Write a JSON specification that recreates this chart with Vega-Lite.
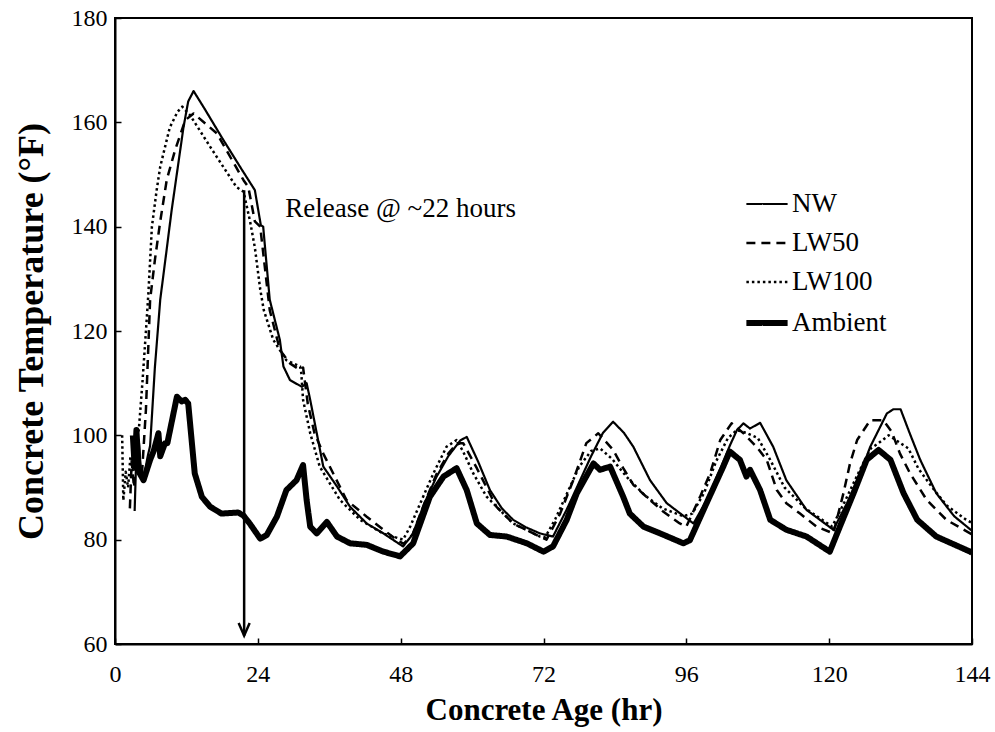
{
  "$schema": "https://vega.github.io/schema/vega-lite/v6.json",
  "width": 857,
  "height": 626,
  "padding": {"left": 115, "top": 18, "right": 23, "bottom": 88},
  "autosize": {"type": "none"},
  "background": "white",
  "config": {
    "view": {"stroke": "black", "strokeWidth": 2},
    "font": "Liberation Serif",
    "axis": {"grid": false, "domainColor": "black", "domainWidth": 2, "tickColor": "black", "tickWidth": 1.5, "labelColor": "black", "titleColor": "black", "labelFont": "Liberation Serif", "titleFont": "Liberation Serif", "labelFontSize": 24, "titleFontWeight": "bold"},
    "legend": {"title": null, "orient": "none", "legendX": 628, "legendY": 164, "symbolType": "stroke", "symbolSize": 1700, "labelFontSize": 27, "labelFont": "Liberation Serif", "labelColor": "black", "labelOffset": 1, "rowPadding": 4, "labelLimit": 300}
  },
  "datasets": {
    "temps": [
      {"s":"NW","x":3.3,"y":85.5},{"s":"NW","x":3.6,"y":97},{"s":"NW","x":4,"y":99},{"s":"NW","x":4.4,"y":92},{"s":"NW","x":5,"y":93},{"s":"NW","x":5.5,"y":96},{"s":"NW","x":5.9,"y":98},{"s":"NW","x":6.7,"y":113},{"s":"NW","x":7.6,"y":126},{"s":"NW","x":8.5,"y":134},{"s":"NW","x":9.5,"y":143},{"s":"NW","x":10.5,"y":151},{"s":"NW","x":11.5,"y":159},{"s":"NW","x":12.3,"y":164},{"s":"NW","x":13.2,"y":166},{"s":"NW","x":15,"y":162.7},{"s":"NW","x":18,"y":157},{"s":"NW","x":21,"y":151.5},{"s":"NW","x":23.5,"y":147},{"s":"NW","x":24.5,"y":140.3},{"s":"NW","x":24.9,"y":140},{"s":"NW","x":26,"y":126},{"s":"NW","x":27.7,"y":118.3},{"s":"NW","x":28.3,"y":113.2},{"s":"NW","x":29.4,"y":110.6},{"s":"NW","x":31.4,"y":109.3},{"s":"NW","x":32.2,"y":110},{"s":"NW","x":32.8,"y":106.8},{"s":"NW","x":33.9,"y":100.4},{"s":"NW","x":35,"y":94},{"s":"NW","x":37.3,"y":90.2},{"s":"NW","x":39.5,"y":86.3},{"s":"NW","x":42.3,"y":83.1},{"s":"NW","x":45.1,"y":81.2},{"s":"NW","x":48.4,"y":78.7},{"s":"NW","x":50,"y":81},{"s":"NW","x":52,"y":87},{"s":"NW","x":54,"y":92},{"s":"NW","x":56,"y":96},{"s":"NW","x":58,"y":99},{"s":"NW","x":59.1,"y":99.7},{"s":"NW","x":61,"y":95},{"s":"NW","x":63,"y":89.5},{"s":"NW","x":65,"y":86},{"s":"NW","x":66.9,"y":83.8},{"s":"NW","x":69,"y":82.4},{"s":"NW","x":71.4,"y":81.2},{"s":"NW","x":73.6,"y":80.6},{"s":"NW","x":76,"y":86},{"s":"NW","x":78,"y":91},{"s":"NW","x":80,"y":96},{"s":"NW","x":82,"y":100.5},{"s":"NW","x":83.7,"y":102.6},{"s":"NW","x":85.5,"y":100.5},{"s":"NW","x":87.1,"y":97.8},{"s":"NW","x":89.9,"y":91.4},{"s":"NW","x":92.7,"y":87},{"s":"NW","x":97.2,"y":83.1},{"s":"NW","x":99.4,"y":87.5},{"s":"NW","x":101.5,"y":93},{"s":"NW","x":103.3,"y":98},{"s":"NW","x":104.5,"y":101},{"s":"NW","x":105.6,"y":102.3},{"s":"NW","x":106.7,"y":101.3},{"s":"NW","x":108.4,"y":102.4},{"s":"NW","x":110.6,"y":97.8},{"s":"NW","x":112.8,"y":91.4},{"s":"NW","x":116.2,"y":85.7},{"s":"NW","x":120.7,"y":81.9},{"s":"NW","x":123,"y":87},{"s":"NW","x":125,"y":92},{"s":"NW","x":126.9,"y":97.8},{"s":"NW","x":129.7,"y":104.2},{"s":"NW","x":130.8,"y":105},{"s":"NW","x":132,"y":105},{"s":"NW","x":133.5,"y":100.5},{"s":"NW","x":135.3,"y":95.3},{"s":"NW","x":138,"y":88.9},{"s":"NW","x":141,"y":84.5},{"s":"NW","x":144,"y":81.7},
      {"s":"LW50","x":2.5,"y":86},{"s":"LW50","x":2.8,"y":95},{"s":"LW50","x":3.2,"y":90},{"s":"LW50","x":3.6,"y":98},{"s":"LW50","x":4,"y":94},{"s":"LW50","x":4.5,"y":92},{"s":"LW50","x":5.2,"y":105},{"s":"LW50","x":5.9,"y":126},{"s":"LW50","x":6.7,"y":133.6},{"s":"LW50","x":7.6,"y":141},{"s":"LW50","x":8.7,"y":149},{"s":"LW50","x":10.1,"y":154.7},{"s":"LW50","x":11.8,"y":160.4},{"s":"LW50","x":13.2,"y":161.7},{"s":"LW50","x":17.1,"y":157.9},{"s":"LW50","x":21.6,"y":148.9},{"s":"LW50","x":22.4,"y":147.6},{"s":"LW50","x":23.5,"y":141},{"s":"LW50","x":24.4,"y":140},{"s":"LW50","x":25,"y":134},{"s":"LW50","x":26,"y":124},{"s":"LW50","x":27.7,"y":116.4},{"s":"LW50","x":29.4,"y":113.8},{"s":"LW50","x":31.1,"y":112.5},{"s":"LW50","x":31.6,"y":113},{"s":"LW50","x":32.4,"y":106},{"s":"LW50","x":33.5,"y":100.5},{"s":"LW50","x":35,"y":96.5},{"s":"LW50","x":38.9,"y":87.6},{"s":"LW50","x":42.3,"y":84.4},{"s":"LW50","x":45,"y":82},{"s":"LW50","x":47.3,"y":80},{"s":"LW50","x":48.5,"y":79.2},{"s":"LW50","x":50,"y":81},{"s":"LW50","x":52,"y":87},{"s":"LW50","x":54,"y":92.5},{"s":"LW50","x":56,"y":96.5},{"s":"LW50","x":57.5,"y":98.5},{"s":"LW50","x":58.5,"y":98.5},{"s":"LW50","x":60.8,"y":93.7},{"s":"LW50","x":64.1,"y":86.3},{"s":"LW50","x":66.9,"y":83.1},{"s":"LW50","x":70.3,"y":81.2},{"s":"LW50","x":72.5,"y":80},{"s":"LW50","x":74.8,"y":85},{"s":"LW50","x":77,"y":91.4},{"s":"LW50","x":79.2,"y":98.5},{"s":"LW50","x":81.2,"y":100.4},{"s":"LW50","x":83.7,"y":97.2},{"s":"LW50","x":85.4,"y":93.7},{"s":"LW50","x":87.1,"y":90.5},{"s":"LW50","x":89.9,"y":87.6},{"s":"LW50","x":92.1,"y":85.4},{"s":"LW50","x":94.9,"y":83.1},{"s":"LW50","x":96,"y":82.5},{"s":"LW50","x":98.3,"y":88.2},{"s":"LW50","x":100,"y":92.7},{"s":"LW50","x":101.7,"y":99.1},{"s":"LW50","x":103.6,"y":102.3},{"s":"LW50","x":105.6,"y":100.4},{"s":"LW50","x":107.8,"y":97.8},{"s":"LW50","x":109.5,"y":95.3},{"s":"LW50","x":111.2,"y":89.5},{"s":"LW50","x":112.8,"y":87},{"s":"LW50","x":115.1,"y":85},{"s":"LW50","x":117.9,"y":82.5},{"s":"LW50","x":120.7,"y":81.2},{"s":"LW50","x":122.4,"y":88.9},{"s":"LW50","x":123.5,"y":94.6},{"s":"LW50","x":124.7,"y":99.1},{"s":"LW50","x":126.9,"y":102.9},{"s":"LW50","x":129.1,"y":102.9},{"s":"LW50","x":130.5,"y":100.7},{"s":"LW50","x":131.9,"y":96.5},{"s":"LW50","x":133.6,"y":92.7},{"s":"LW50","x":136.4,"y":87.6},{"s":"LW50","x":139.7,"y":83.8},{"s":"LW50","x":143.1,"y":81.6},{"s":"LW50","x":144,"y":81},
      {"s":"LW100","x":1.2,"y":100},{"s":"LW100","x":1.4,"y":87.5},{"s":"LW100","x":1.8,"y":93},{"s":"LW100","x":2.2,"y":90},{"s":"LW100","x":2.6,"y":96},{"s":"LW100","x":3,"y":93},{"s":"LW100","x":3.5,"y":100},{"s":"LW100","x":4,"y":101},{"s":"LW100","x":4.6,"y":110},{"s":"LW100","x":5.2,"y":120},{"s":"LW100","x":5.6,"y":127},{"s":"LW100","x":6.2,"y":140},{"s":"LW100","x":7,"y":147},{"s":"LW100","x":7.6,"y":151.5},{"s":"LW100","x":9.2,"y":159},{"s":"LW100","x":10.5,"y":162},{"s":"LW100","x":11.3,"y":163},{"s":"LW100","x":12.6,"y":161.4},{"s":"LW100","x":16,"y":155.3},{"s":"LW100","x":20.4,"y":147.6},{"s":"LW100","x":21.6,"y":146.7},{"s":"LW100","x":22.7,"y":141},{"s":"LW100","x":23.5,"y":136},{"s":"LW100","x":24.4,"y":128},{"s":"LW100","x":25,"y":124},{"s":"LW100","x":26.6,"y":118.3},{"s":"LW100","x":28.8,"y":114.4},{"s":"LW100","x":31.1,"y":113.2},{"s":"LW100","x":31.3,"y":112},{"s":"LW100","x":31.6,"y":106.8},{"s":"LW100","x":32.8,"y":100.4},{"s":"LW100","x":34.4,"y":94},{"s":"LW100","x":37.8,"y":87.6},{"s":"LW100","x":41.2,"y":83.8},{"s":"LW100","x":45,"y":81.2},{"s":"LW100","x":48.4,"y":80},{"s":"LW100","x":49.6,"y":82.5},{"s":"LW100","x":51.3,"y":87},{"s":"LW100","x":53.5,"y":92.7},{"s":"LW100","x":55.7,"y":97.8},{"s":"LW100","x":57.4,"y":99.1},{"s":"LW100","x":58.5,"y":96.9},{"s":"LW100","x":60.2,"y":92.7},{"s":"LW100","x":62.4,"y":88.3},{"s":"LW100","x":66.9,"y":83.1},{"s":"LW100","x":71.4,"y":80.6},{"s":"LW100","x":72.3,"y":80.5},{"s":"LW100","x":74,"y":84},{"s":"LW100","x":76,"y":89},{"s":"LW100","x":78,"y":94},{"s":"LW100","x":80,"y":97},{"s":"LW100","x":81.5,"y":97.5},{"s":"LW100","x":83.5,"y":95.5},{"s":"LW100","x":86,"y":92},{"s":"LW100","x":89,"y":88.5},{"s":"LW100","x":92,"y":86},{"s":"LW100","x":95.5,"y":84.5},{"s":"LW100","x":97,"y":85},{"s":"LW100","x":99,"y":89},{"s":"LW100","x":101,"y":95},{"s":"LW100","x":103,"y":99.5},{"s":"LW100","x":104.5,"y":101},{"s":"LW100","x":106,"y":100.5},{"s":"LW100","x":108,"y":99.5},{"s":"LW100","x":110,"y":95.5},{"s":"LW100","x":112.5,"y":90},{"s":"LW100","x":116,"y":86},{"s":"LW100","x":120.5,"y":82.5},{"s":"LW100","x":122.5,"y":87},{"s":"LW100","x":125,"y":93},{"s":"LW100","x":127,"y":97.5},{"s":"LW100","x":128.3,"y":98.5},{"s":"LW100","x":130,"y":100},{"s":"LW100","x":133.3,"y":97.5},{"s":"LW100","x":135,"y":93.6},{"s":"LW100","x":137.2,"y":90.2},{"s":"LW100","x":139.7,"y":86.6},{"s":"LW100","x":142.8,"y":84},{"s":"LW100","x":144,"y":83.2},
      {"s":"Ambient","x":3,"y":100},{"s":"Ambient","x":3.3,"y":94},{"s":"Ambient","x":3.6,"y":101},{"s":"Ambient","x":4,"y":93},{"s":"Ambient","x":4.5,"y":92},{"s":"Ambient","x":4.8,"y":91.4},{"s":"Ambient","x":5.9,"y":95.3},{"s":"Ambient","x":6.5,"y":97},{"s":"Ambient","x":7.3,"y":100.4},{"s":"Ambient","x":7.6,"y":96},{"s":"Ambient","x":8.4,"y":98.5},{"s":"Ambient","x":8.8,"y":98.5},{"s":"Ambient","x":10.4,"y":107.4},{"s":"Ambient","x":11.2,"y":106.5},{"s":"Ambient","x":11.8,"y":106.8},{"s":"Ambient","x":12.3,"y":106.1},{"s":"Ambient","x":13.4,"y":92.7},{"s":"Ambient","x":14.6,"y":88.2},{"s":"Ambient","x":16,"y":86.3},{"s":"Ambient","x":17.9,"y":85},{"s":"Ambient","x":20.7,"y":85.2},{"s":"Ambient","x":21.6,"y":84.6},{"s":"Ambient","x":22.7,"y":83},{"s":"Ambient","x":24.4,"y":80.2},{"s":"Ambient","x":25.5,"y":80.9},{"s":"Ambient","x":27.2,"y":84.4},{"s":"Ambient","x":28.8,"y":89.5},{"s":"Ambient","x":30.5,"y":91.4},{"s":"Ambient","x":31.6,"y":94.3},{"s":"Ambient","x":32.2,"y":87.6},{"s":"Ambient","x":32.8,"y":82.5},{"s":"Ambient","x":33.9,"y":81.2},{"s":"Ambient","x":35.6,"y":83.4},{"s":"Ambient","x":37.3,"y":80.6},{"s":"Ambient","x":39.5,"y":79.3},{"s":"Ambient","x":42.3,"y":79},{"s":"Ambient","x":45.1,"y":77.7},{"s":"Ambient","x":47.9,"y":76.8},{"s":"Ambient","x":50.1,"y":79.3},{"s":"Ambient","x":52.9,"y":88.2},{"s":"Ambient","x":55.2,"y":92.1},{"s":"Ambient","x":57.4,"y":93.7},{"s":"Ambient","x":59.1,"y":89.5},{"s":"Ambient","x":60.8,"y":83.1},{"s":"Ambient","x":63,"y":80.9},{"s":"Ambient","x":65.8,"y":80.6},{"s":"Ambient","x":69.2,"y":79.3},{"s":"Ambient","x":72,"y":77.7},{"s":"Ambient","x":73.6,"y":78.7},{"s":"Ambient","x":75.9,"y":83.8},{"s":"Ambient","x":77.6,"y":88.9},{"s":"Ambient","x":80.4,"y":94.6},{"s":"Ambient","x":81.5,"y":93.4},{"s":"Ambient","x":83.2,"y":94},{"s":"Ambient","x":85.4,"y":88.2},{"s":"Ambient","x":86.5,"y":85},{"s":"Ambient","x":88.8,"y":82.5},{"s":"Ambient","x":91.6,"y":81.2},{"s":"Ambient","x":95.5,"y":79.3},{"s":"Ambient","x":96.6,"y":79.9},{"s":"Ambient","x":99.4,"y":87},{"s":"Ambient","x":102.2,"y":94},{"s":"Ambient","x":103.3,"y":96.9},{"s":"Ambient","x":105,"y":95.3},{"s":"Ambient","x":106.1,"y":92.1},{"s":"Ambient","x":106.7,"y":93.4},{"s":"Ambient","x":108.4,"y":89.5},{"s":"Ambient","x":110.1,"y":83.8},{"s":"Ambient","x":112.8,"y":81.9},{"s":"Ambient","x":116.2,"y":80.6},{"s":"Ambient","x":120.1,"y":77.7},{"s":"Ambient","x":121.8,"y":82.5},{"s":"Ambient","x":124.1,"y":88.9},{"s":"Ambient","x":126.3,"y":95.3},{"s":"Ambient","x":128.3,"y":97.2},{"s":"Ambient","x":130.3,"y":95.3},{"s":"Ambient","x":132.5,"y":88.9},{"s":"Ambient","x":134.8,"y":83.8},{"s":"Ambient","x":138,"y":80.6},{"s":"Ambient","x":143.7,"y":77.7},{"s":"Ambient","x":144,"y":77.5}
    ],
    "arrow": [{"x": 21.7, "y": 147, "y2": 61.6}],
    "note": [{"x": 28.6, "y": 143.3, "label": "Release @ ~22 hours"}]
  },
  "layer": [
    {
      "data": {"name": "temps"},
      "mark": {"type": "line", "strokeJoin": "round", "clip": true},
      "encoding": {
        "x": {"field": "x", "type": "quantitative", "scale": {"domain": [0, 144], "nice": false}, "axis": {"values": [0, 24, 48, 72, 96, 120, 144], "title": "Concrete Age (hr)", "titleFontSize": 31, "tickSize": -6, "labelPadding": 24, "titlePadding": 9, "labelFlush": false}},
        "y": {"field": "y", "type": "quantitative", "scale": {"domain": [60, 180], "nice": false, "zero": false}, "axis": {"values": [60, 80, 100, 120, 140, 160, 180], "title": "Concrete Temperature (°F)", "titleFontSize": 36, "tickSize": -6, "labelPadding": 14, "titlePadding": 21}},
        "detail": {"field": "s"},
        "color": {"field": "s", "type": "nominal", "scale": {"domain": ["NW", "LW50", "LW100", "Ambient"], "range": ["black", "black", "black", "black"]}},
        "strokeDash": {"field": "s", "type": "nominal", "scale": {"domain": ["NW", "LW50", "LW100", "Ambient"], "range": [[1, 0], [9, 6], [2.5, 3], [1, 0]]}},
        "strokeWidth": {"field": "s", "type": "nominal", "scale": {"type": "ordinal", "domain": ["NW", "LW50", "LW100", "Ambient"], "range": [2.2, 2.5, 2.5, 6]}}
      }
    },
    {
      "data": {"name": "arrow"},
      "mark": {"type": "rule", "color": "black", "strokeWidth": 2.5},
      "encoding": {
        "x": {"field": "x", "type": "quantitative"},
        "y": {"field": "y", "type": "quantitative"},
        "y2": {"field": "y2"}
      }
    },
    {
      "data": {"name": "arrow"},
      "mark": {"type": "point", "shape": "M-1,-2.3L0,0L1,-2.3", "size": 121, "filled": false, "stroke": "black", "strokeWidth": 2.5, "opacity": 1},
      "encoding": {
        "x": {"field": "x", "type": "quantitative"},
        "y": {"field": "y2", "type": "quantitative"}
      }
    },
    {
      "data": {"name": "note"},
      "mark": {"type": "text", "align": "left", "baseline": "middle", "font": "Liberation Serif", "fontSize": 27, "color": "black"},
      "encoding": {
        "x": {"field": "x", "type": "quantitative"},
        "y": {"field": "y", "type": "quantitative"},
        "text": {"field": "label"}
      }
    }
  ]
}
